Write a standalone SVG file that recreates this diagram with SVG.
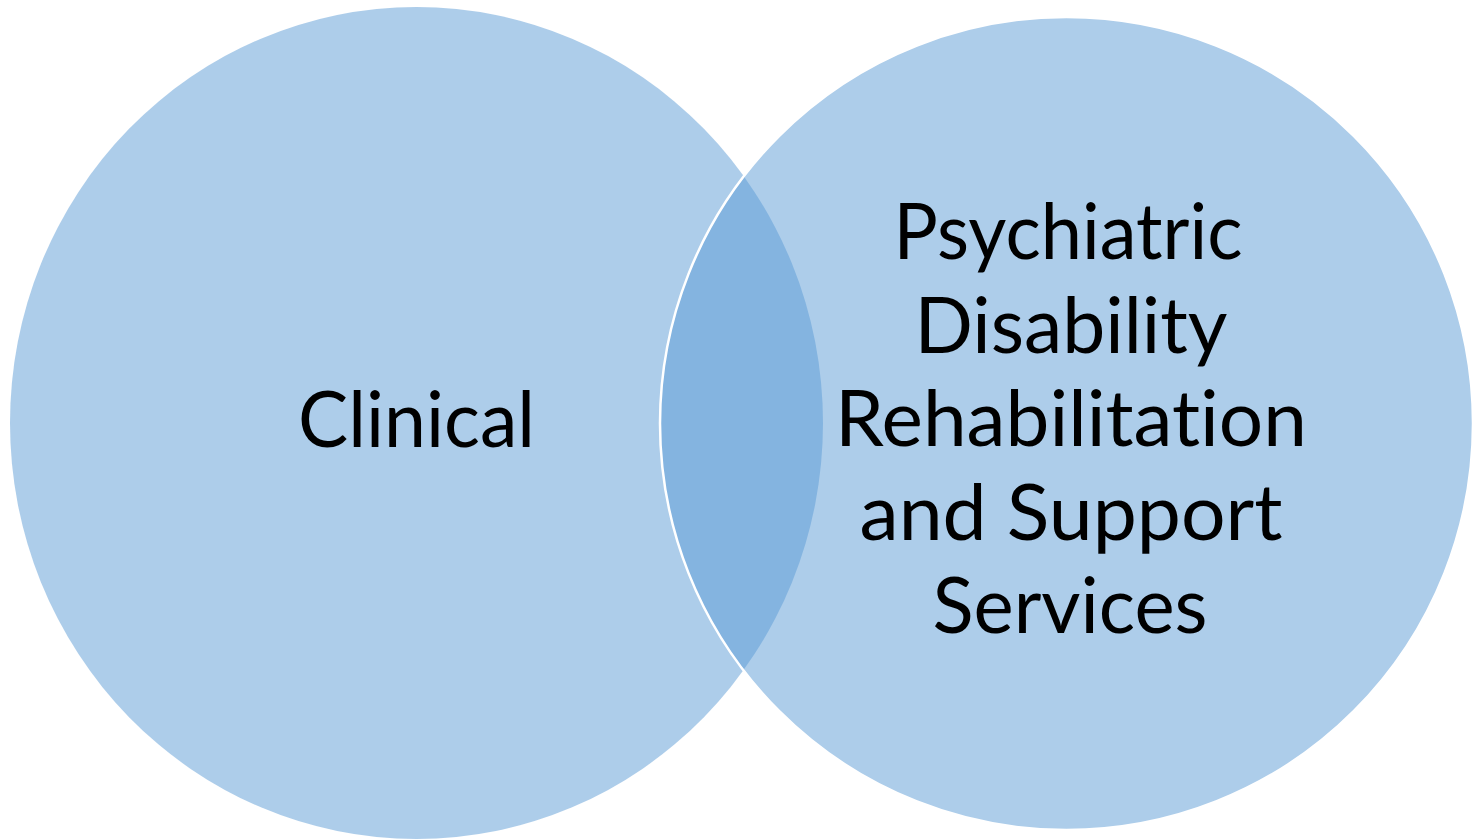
<svg xmlns="http://www.w3.org/2000/svg" width="1473" height="840" viewBox="0 0 1473 840">
<style>
.c{fill:#5B9BD5;fill-opacity:0.5;}
.r{stroke:#FFFFFF;stroke-width:2.5;}
.t{font-family:Lato,"Open Sans","Liberation Sans",sans-serif;font-size:77px;fill:#000000;text-anchor:middle;font-variant-ligatures:none;font-feature-settings:"liga" 0,"dlig" 0;}
</style>
<rect width="1473" height="840" fill="#FFFFFF"/>
<g id="clinical">
<ellipse class="c" cx="416.5" cy="423" rx="406.5" ry="416"/>
<text class="t" x="416.5" y="447" textLength="237" lengthAdjust="spacingAndGlyphs">Clinical</text>
</g>
<g id="psychiatric">
<circle class="c r" cx="1066.5" cy="423.5" r="406.5"/>
<text class="t" x="1068" y="259" textLength="349" lengthAdjust="spacingAndGlyphs">Psychiatric</text>
<text class="t" x="1071" y="352.5" textLength="313" lengthAdjust="spacingAndGlyphs">Disability</text>
<text class="t" x="1071" y="446" textLength="472" lengthAdjust="spacingAndGlyphs">Rehabilitation</text>
<text class="t" x="1071" y="539.5" textLength="423" lengthAdjust="spacingAndGlyphs">and Support</text>
<text class="t" x="1070" y="633" textLength="275" lengthAdjust="spacingAndGlyphs">Services</text>
</g>
<g id="connectors"></g>
</svg>
